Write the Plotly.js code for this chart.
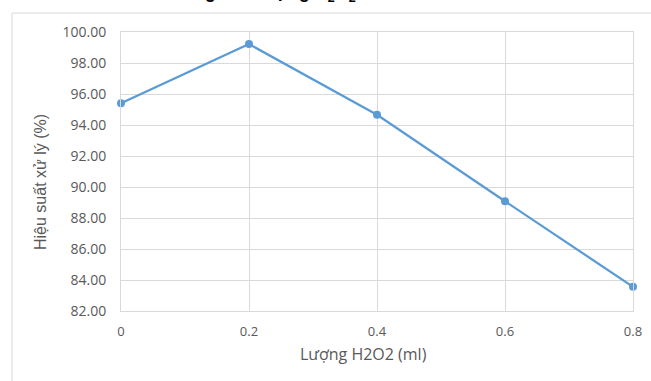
<!DOCTYPE html>
<html>
<head>
<meta charset="utf-8">
<script src="https://cdn.plot.ly/plotly-3.0.1.min.js"></script>
<style>html,body{margin:0;padding:0;background:#fff;}#chart{width:651px;height:381px;}</style>
</head>
<body>
<div id="chart"></div>
<script>
const h2o2Amount = [0, 0.2, 0.4, 0.6, 0.8];
const efficiency = [95.40, 99.22, 94.66, 89.08, 83.56];
const xTickVals = [0, 0.2, 0.4, 0.6, 0.8];
const xTickText = ["0", "0.2", "0.4", "0.6", "0.8"];
const yTickVals = [82, 84, 86, 88, 90, 92, 94, 96, 98, 100];
const yTickText = yTickVals.map(v => v.toFixed(2));
const titleText = "Ảnh hưởng của lượng H<sub>2</sub>O<sub>2</sub>";
const xTitle = "Lượng H2O2 (ml)";
const yTitle = "Hiệu suất xử lý (%)";

const trace = {
  x: h2o2Amount, y: efficiency, type: 'scatter', mode: 'lines+markers',
  line: {color: '#5b9bd5', width: 2.25},
  marker: {color: '#5b9bd5', size: 8},
  cliponaxis: false, hoverinfo: 'none'
};

const layout = {
  width: 651, height: 381,
  margin: {l: 121, r: 18, t: 32, b: 70},
  paper_bgcolor: '#ffffff', plot_bgcolor: '#ffffff',
  showlegend: false,
  font: {family: 'Open Sans, sans-serif', color: '#595959', size: 12},
  xaxis: {
    range: [0, 0.8], tickvals: xTickVals, ticktext: xTickText,
    showgrid: true, gridcolor: '#d9d9d9', gridwidth: 1,
    zeroline: false, showline: true, linecolor: '#d9d9d9', mirror: true,
    ticks: '', ticklabelstandoff: 8,
    tickfont: {family: 'Open Sans, sans-serif', size: 13, color: '#595959'}
  },
  yaxis: {
    range: [82, 100], tickvals: yTickVals, ticktext: yTickText,
    showgrid: true, gridcolor: '#d9d9d9', gridwidth: 1,
    zeroline: false, showline: true, linecolor: '#d9d9d9', mirror: true,
    ticks: '', ticklabelstandoff: 11,
    tickfont: {family: 'Open Sans, sans-serif', size: 14, color: '#595959'}
  },
  shapes: [{
    type: 'rect', xref: 'paper', yref: 'paper',
    x0: -0.2129, x1: 1.2, y0: -0.4, y1: 1.068,
    line: {color: '#d9d9d9', width: 1}, layer: 'below'
  }],
  annotations: [{
    text: '<b>' + titleText + '</b>', xref: 'paper', yref: 'paper',
    x: 0.463, y: 1.0896, xanchor: 'right', yanchor: 'bottom', showarrow: false,
    font: {family: 'Liberation Sans, Arial, sans-serif', size: 18, color: '#000000'}
  }, {
    text: xTitle, xref: 'paper', yref: 'paper',
    x: (363 - 121) / 512, y: -(354 - 311) / 279, xanchor: 'center', yanchor: 'middle', showarrow: false,
    font: {family: 'Open Sans, sans-serif', size: 16, color: '#595959'}
  }, {
    text: yTitle, xref: 'paper', yref: 'paper', textangle: -90,
    x: (40 - 121) / 512, y: (311 - 182) / 279, xanchor: 'center', yanchor: 'middle', showarrow: false,
    font: {family: 'Liberation Sans, Arial, sans-serif', size: 16, color: '#595959'}
  }]
};

Plotly.newPlot('chart', [trace], layout, {staticPlot: true, displayModeBar: false});
</script>
</body>
</html>
